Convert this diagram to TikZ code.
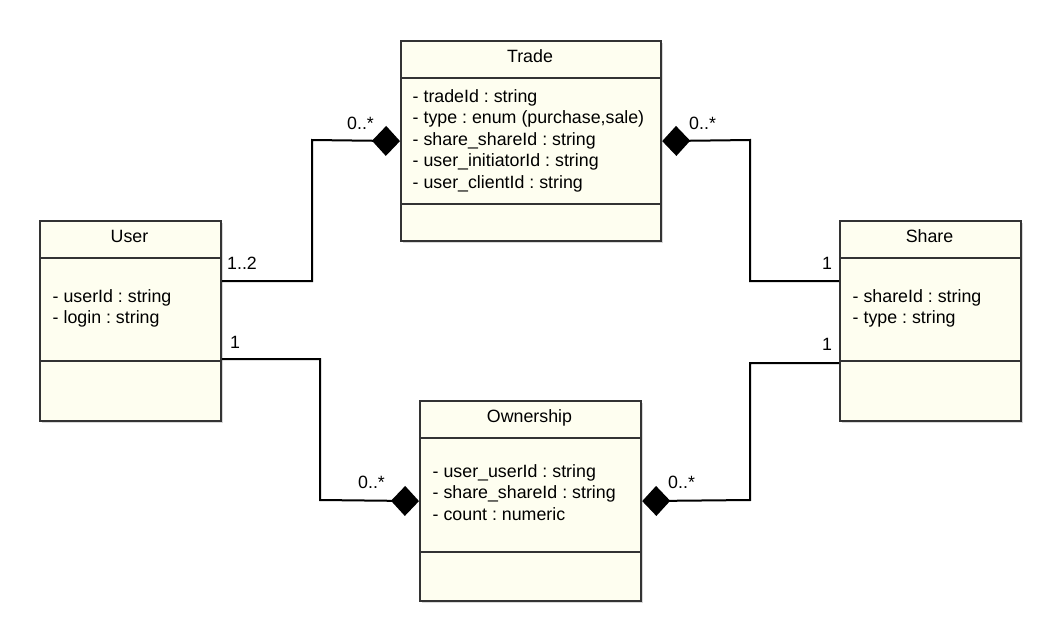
\documentclass[tikz,border=0pt]{standalone}
\usepackage{fontspec}
\setmainfont{Liberation Sans}
\usetikzlibrary{arrows.meta,shadows}
\frenchspacing
\definecolor{boxfill}{HTML}{FEFEF0}
\definecolor{boxline}{HTML}{333333}
\tikzset{
  umlbox/.style={draw=boxline, line width=2.2pt, fill=boxfill, anchor=north west, inner sep=0pt,
    drop shadow={shadow xshift=2pt, shadow yshift=-2pt, fill=black!30}},
  sepline/.style={draw=boxline, line width=1.8pt},
  txt/.style={font=\fontsize{17.8}{21.5}\selectfont, inner sep=0pt, anchor=base west},
  ttl/.style={txt, anchor=base},
  conn/.style={line width=2pt, draw=black},
  comp/.style={conn, -{Diamond[length=28pt,width=30pt]}},
}
\begin{document}
\begin{tikzpicture}[x=1pt,y=-1pt]
\useasboundingbox (0,0) rectangle (1060,640);

% boxes
\node[umlbox, minimum width=260pt, minimum height=200pt] (trade) at (400,40) {};
\node[umlbox, minimum width=181pt, minimum height=200pt] (user) at (39,220) {};
\node[umlbox, minimum width=181pt, minimum height=200pt] (share) at (839,220) {};
\node[umlbox, minimum width=221pt, minimum height=200pt] (own) at (419,400) {};

% compartments
\draw[sepline] ([yshift=-38pt]trade.north west) -- ([yshift=-38pt]trade.north east);
\draw[sepline] ([yshift=-164pt]trade.north west) -- ([yshift=-164pt]trade.north east);
\draw[sepline] ([yshift=-38pt]user.north west) -- ([yshift=-38pt]user.north east);
\draw[sepline] ([yshift=-141pt]user.north west) -- ([yshift=-141pt]user.north east);
\draw[sepline] ([yshift=-38pt]share.north west) -- ([yshift=-38pt]share.north east);
\draw[sepline] ([yshift=-141pt]share.north west) -- ([yshift=-141pt]share.north east);
\draw[sepline] ([yshift=-38pt]own.north west) -- ([yshift=-38pt]own.north east);
\draw[sepline] ([yshift=-152pt]own.north west) -- ([yshift=-152pt]own.north east);

% titles
\node[ttl] (tradeT) at (530,62) {Trade};
\node[ttl] (userT) at (129.5,242) {User};
\node[ttl] (shareT) at (929.5,242) {Share};
\node[ttl] (ownT) at (529.5,422) {Ownership};

% attributes
\node[txt] (ta1) at (412.5,102) {- tradeId : string};
\node[txt] (ta2) at (412.5,123.5) {- type : enum (purchase,sale)};
\node[txt] (ta3) at (412.5,145) {- share\_shareId : string};
\node[txt] (ta4) at (412.5,166.5) {- user\_initiatorId : string};
\node[txt] (ta5) at (412.5,188) {- user\_clientId : string};

\node[txt] (ua1) at (52.5,302) {- userId : string};
\node[txt] (ua2) at (52.5,323.5) {- login : string};

\node[txt] (sa1) at (852.5,302) {- shareId : string};
\node[txt] (sa2) at (852.5,323.5) {- type : string};

\node[txt] (oa1) at (432.5,477) {- user\_userId : string};
\node[txt] (oa2) at (432.5,498.5) {- share\_shareId : string};
\node[txt] (oa3) at (432.5,520) {- count : numeric};

% connectors
\coordinate (c1) at (312,140);
\coordinate (c2) at (750,140);
\coordinate (c3) at (320,500);
\coordinate (c4) at (750,500);
\draw[comp] ([yshift=40pt]user.east) -| (c1) -- (trade.west);
\draw[comp] ([yshift=40pt]share.west) -| (c2) -- (trade.east);
\draw[comp] ([yshift=-38pt]user.east) -| (c3) -- (own.west);
\draw[comp] ([yshift=-42pt]share.west) -| (c4) -- (own.east);

% multiplicities
\node[txt] (m1) at (347,129) {0..*};
\node[txt] (m2) at (689,129) {0..*};
\node[txt] (m3) at (227,269) {1..2};
\node[txt] (m4) at (822,269) {1};
\node[txt] (m5) at (230,348) {1};
\node[txt] (m6) at (822,350) {1};
\node[txt] (m7) at (358,488) {0..*};
\node[txt] (m8) at (668,488) {0..*};
\end{tikzpicture}
\end{document}
